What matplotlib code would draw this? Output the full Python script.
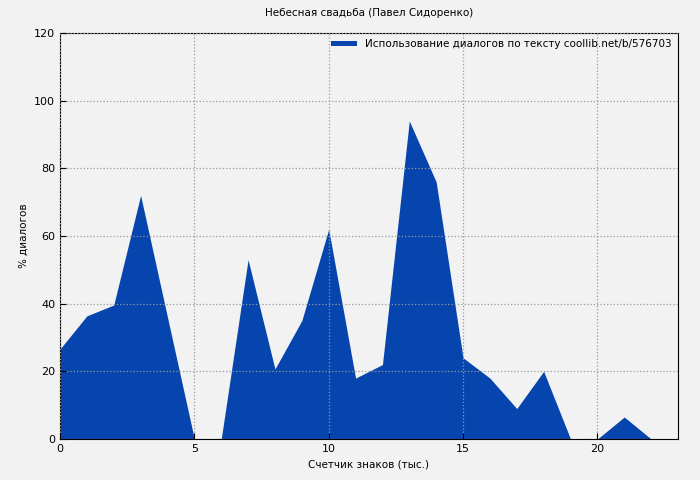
import matplotlib
matplotlib.use("Agg")
import matplotlib.pyplot as plt

x_vals = list(range(23))
dialog_pct = [26.6, 36.4, 39.6, 72, 36, 0, 0, 53, 20.7, 35, 62, 18, 22, 94, 76,
              24, 18, 9, 20, 0, 0, 6.5, 0]
x_ticks = [0, 5, 10, 15, 20]
y_ticks = [0, 20, 40, 60, 80, 100, 120]

fig = plt.figure(figsize=(7, 4.8), dpi=100, facecolor='#f2f2f2')
ax = fig.add_axes([60/700, 1-439/480, 618/700, 406/480], facecolor='#f2f2f2')
ax.fill_between(x_vals, dialog_pct, 0, color='#0645ad', lw=0,
                label='Использование диалогов по тексту coollib.net/b/576703')
ax.set_xlim(0, 23)
ax.set_ylim(0, 120)
ax.set_xticks(x_ticks)
ax.set_yticks(y_ticks)
ax.grid(True, color='#999999', linestyle=':', linewidth=0.9)
ax.set_axisbelow(False)
ax.tick_params(labelsize=8, direction='in', length=4)
ax.set_title('Небесная свадьба (Павел Сидоренко)', fontsize=7.5, pad=12)
ax.set_xlabel('Счетчик знаков (тыс.)', fontsize=7.5)
ax.set_ylabel('% диалогов', fontsize=7.5)
leg = ax.legend(loc='upper right', fontsize=7.5, frameon=False, handlelength=2.5,
                handleheight=0.4, borderaxespad=0.2)
plt.savefig('out.png', dpi=100, facecolor='#f2f2f2')
